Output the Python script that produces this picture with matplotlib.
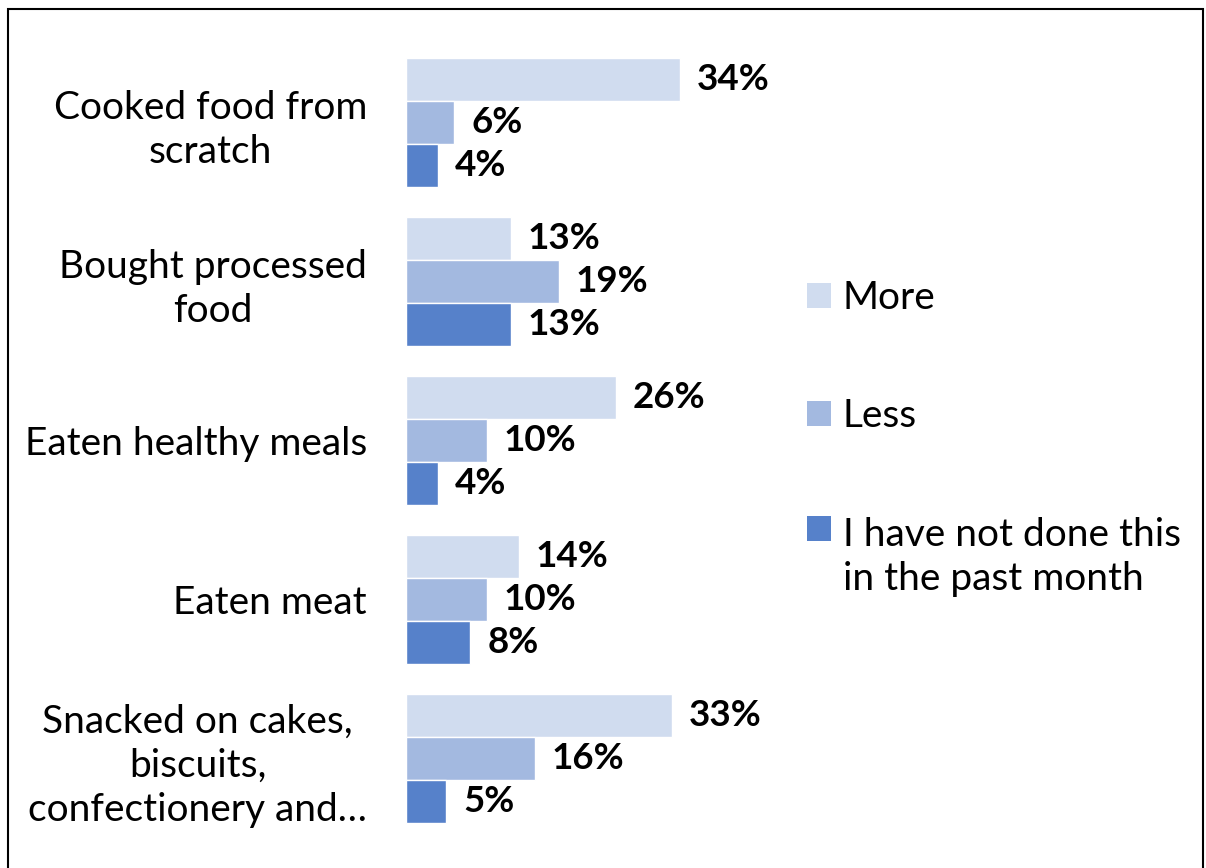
import numpy as np
import matplotlib.pyplot as plt
from matplotlib.patches import Rectangle, Patch
from matplotlib.legend_handler import HandlerPatch

plt.rcParams['font.family'] = ['Lato', 'DejaVu Sans']

# Data
categories = ['Cooked food from\nscratch', 'Bought processed\nfood', 'Eaten healthy meals',
              'Eaten meat', 'Snacked on cakes,\nbiscuits,\nconfectionery and…']
more = [34, 13, 26, 14, 33]
less = [6, 19, 10, 10, 16]
not_done = [4, 13, 4, 8, 5]
series_names = ['More', 'Less', 'I have not done this\nin the past month']
colors = ['#D0DCEF', '#A3B9E0', '#5681CA']

fig = plt.figure(figsize=(12.06, 8.68), dpi=100)
W, H = 1206, 868
ax = fig.add_axes([406 / W, 1 - 838 / H, 384 / W, 795 / H])

y = np.arange(len(categories))
h = 0.27
for i, (vals, col) in enumerate(zip([more, less, not_done], colors)):
    pos = y + (i - 1) * h
    ax.barh(pos, vals, height=h, color=col, edgecolor='white', linewidth=1)
    for p, v in zip(pos, vals):
        ax.annotate(f'{v}%', (v, p), xytext=(12, 0), textcoords='offset points',
                    va='center', ha='left', fontsize=26.5, fontweight='bold')

ax.set_xlim(0, 384 / 8.06)
ax.set_ylim(len(categories) - 0.5, -0.5)
ax.set_yticks(y)
ax.set_yticklabels(categories, fontsize=28)
for lbl in ax.get_yticklabels():
    lbl.set_multialignment('center')
    lbl.set_linespacing(1.28)
ax.tick_params(axis='y', length=0, pad=28)
ax.set_xticks([])
for s in ax.spines.values():
    s.set_visible(False)


# legend marker of the two-line entry sits next to the first line
def top_square(legend, orig_handle, xdescent, ydescent, width, height, fontsize):
    return Rectangle((-xdescent, -ydescent + 21), width, height)


handles = [Patch(facecolor=c) for c in colors]
leg = fig.legend(handles, series_names, loc='upper left', bbox_to_anchor=(772 / W, 1 - 245 / H),
                 frameon=False, fontsize=28, handlelength=0.62, handleheight=0.62,
                 handletextpad=0.3, labelspacing=2.12,
                 handler_map={handles[2]: HandlerPatch(patch_func=top_square)})
for t in leg.get_texts():
    t.set_linespacing(1.28)

# outer frame
fig.patches.append(Rectangle((8 / W, -0.01), 1195 / W, 1 - 9 / H + 0.01, transform=fig.transFigure,
                             fill=False, edgecolor='black', linewidth=1.5))

fig.savefig('out.png', dpi=100)
